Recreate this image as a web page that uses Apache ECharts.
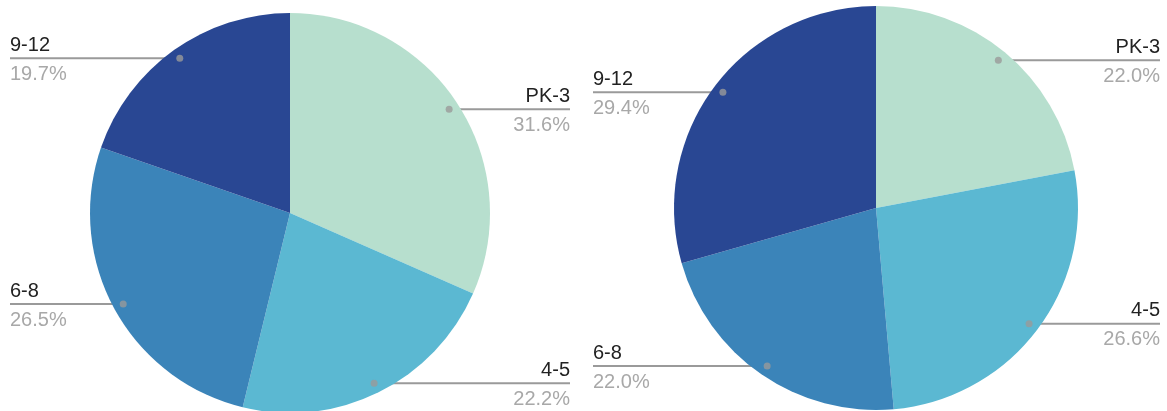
<!DOCTYPE html>
<html>
<head>
<meta charset="utf-8">
<script src="https://cdn.jsdelivr.net/npm/echarts@6/dist/echarts.min.js"></script>
<style>
html,body{margin:0;padding:0;background:#fff;}
#chart{width:1167px;height:411px;}
</style>
</head>
<body>
<div id="chart"></div>
<script>
// ---- data ----
var categories = ['PK-3', '4-5', '6-8', '9-12'];
var leftValues = [31.6, 22.2, 26.5, 19.7];
var rightValues = [22.0, 26.6, 22.0, 29.4];
var colors = ['#b7dfce', '#5bb8d2', '#3b84b9', '#294793'];

// ---- layout (not data) ----
var pies = [
  { values: leftValues, cx: 290, cy: 213, r: 200, leftX: 10, rightX: 570 },
  { values: rightValues, cx: 876, cy: 208, r: 202, leftX: 593, rightX: 1160 }
];
var DOT_RATIO = 0.95;

var chart = echarts.init(document.getElementById('chart'), null, { renderer: 'canvas' });

function midCum(values) {
  var out = [], acc = 0, total = 0;
  values.forEach(function (v) { total += v; });
  values.forEach(function (v) {
    out.push((acc + v / 2) / total * 100);
    acc += v;
  });
  return out;
}

var polar = [], angleAxis = [], radiusAxis = [], series = [];
pies.forEach(function (p, i) {
  polar.push({ center: [p.cx, p.cy], radius: p.r });
  angleAxis.push({
    polarIndex: i, type: 'value', min: 0, max: 100, startAngle: 90, clockwise: true,
    axisLine: { show: false }, axisTick: { show: false }, axisLabel: { show: false }, splitLine: { show: false }
  });
  radiusAxis.push({
    polarIndex: i, type: 'value', min: 0, max: 1,
    axisLine: { show: false }, axisTick: { show: false }, axisLabel: { show: false }, splitLine: { show: false }
  });
  series.push({
    type: 'pie',
    center: [p.cx, p.cy],
    radius: [0, p.r],
    startAngle: 90,
    clockwise: true,
    avoidLabelOverlap: false,
    silent: true,
    animation: false,
    data: categories.map(function (c, k) {
      return { name: c, value: p.values[k], itemStyle: { color: colors[k] } };
    }),
    label: {
      show: true,
      position: 'outside',
      formatter: function (prm) { return '{n|' + prm.name + '}\n{p|' + prm.value.toFixed(1) + '%}'; },
      rich: {
        n: { fontFamily: 'Liberation Sans, Arial, sans-serif', fontSize: 20, color: '#222222', lineHeight: 26 },
        p: { fontFamily: 'Liberation Sans, Arial, sans-serif', fontSize: 20, color: '#a8a8a8', lineHeight: 32 }
      }
    },
    labelLine: { show: true, length: 10, length2: 10, lineStyle: { color: '#9a9a9a', width: 2 } },
    labelLayout: (function (pp) {
      return function (params) {
        var pts = params.labelLinePoints;
        var p0 = pts[0];
        var dx = p0[0] - pp.cx, dy = p0[1] - pp.cy;
        var len = Math.sqrt(dx * dx + dy * dy) || 1;
        var dX = pp.cx + dx / len * pp.r * DOT_RATIO;
        var dY = pp.cy + dy / len * pp.r * DOT_RATIO;
        var isLeft = dx < 0;
        var ex = isLeft ? pp.leftX : pp.rightX;
        return {
          x: ex,
          y: dY - 26,
          align: isLeft ? 'left' : 'right',
          verticalAlign: 'top',
          labelLinePoints: [[dX, dY], [dX, dY], [ex, dY]]
        };
      };
    })(p)
  });
  var mids = midCum(p.values);
  series.push({
    type: 'scatter',
    coordinateSystem: 'polar',
    polarIndex: i,
    symbol: 'circle',
    symbolSize: 7,
    silent: true,
    animation: false,
    z: 5,
    itemStyle: { color: '#9a9a9a' },
    data: mids.map(function (m) { return [DOT_RATIO, m]; })
  });
});

chart.setOption({
  backgroundColor: '#ffffff',
  animation: false,
  polar: polar,
  angleAxis: angleAxis,
  radiusAxis: radiusAxis,
  series: series
});
</script>
</body>
</html>
